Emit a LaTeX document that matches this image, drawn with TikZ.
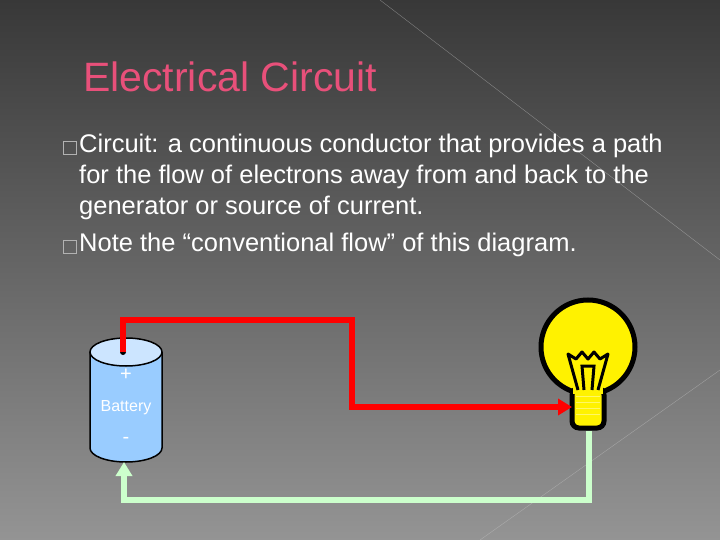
\documentclass[tikz,border=0pt]{standalone}
\usepackage{fontspec}
\setmainfont{Liberation Sans}
\usetikzlibrary{arrows.meta}
\definecolor{ttl}{HTML}{E8507A}
\definecolor{bat}{HTML}{99CCFF}
\definecolor{battop}{HTML}{CCE5FF}
\definecolor{grn}{HTML}{CCFFCC}
\tikzset{txt/.style={text=white,font=\fontsize{25.5}{31}\selectfont,anchor=north west,inner sep=0pt,align=left},
 bul/.style={draw=gray!60,line width=0.8pt,minimum size=13pt,inner sep=0pt},
 wire/.style={line width=6pt}}
\begin{document}
\begin{tikzpicture}[x=1pt,y=-1pt]
\useasboundingbox (0,0) rectangle (720,540);
\shade[top color=black!78,bottom color=black!42] (0,0) rectangle (720,540);
\draw[white!55!gray,opacity=0.5] (380,0) -- (720,260);
\draw[white!55!gray,opacity=0.5] (480,540) -- (720,370);
\node[text=ttl,font=\fontsize{41}{46}\selectfont,anchor=west,inner sep=0pt] (title) at (83,77) {Electrical Circuit};
\node[bul] (b1) at (70,148) {};
\node[bul] (b2) at (70,247) {};
\node[txt] (t1) at (79,134) {Circuit: a continuous conductor that provides a path\\for the flow of electrons away from and back to the\\generator or source of current.};
\node[txt] (t2) at (79,233) {Note the “conventional flow” of this diagram.};
% battery
\draw[line width=1.5pt,fill=bat] (90,352) -- (90,448) arc[start angle=180,end angle=0,x radius=36,y radius=14] -- (162,352);
\draw[line width=1.5pt,fill=battop] (126,352) ellipse[x radius=36,y radius=14];
\fill (123,352) circle[radius=3];
\coordinate (bplus) at (123,352);
\coordinate (bminus) at (124,462);
\node[text=white,font=\fontsize{20}{20}\selectfont] (plus) at (126,375) {+};
\node[text=white,font=\fontsize{16}{18}\selectfont] (blab) at (126,408) {Battery};
\node[text=white,font=\fontsize{20}{20}\selectfont] (minus) at (126,440) {-};
% bulb
\draw[line width=5pt,fill=yellow] (588,347) circle[radius=47];
\draw[line width=5pt,fill=yellow,rounded corners=7pt] (572,388) rectangle (604,428);
\fill[yellow] (573,375) rectangle (603,394);
\foreach \y in {396,402,408,414}{\draw[yellow!60!white,line width=0.8pt] (576,\y) -- (600,\y);}
\draw[line width=3pt,line join=round] (578,390) -- (568,354) -- (576,359) -- (582,352) -- (588,359) -- (594,352) -- (600,359) -- (608,354) -- (598,390);
\draw[line width=3pt] (584,390) -- (582,366) -- (594,366) -- (592,390);
\coordinate (lin) at (572,407);
\coordinate (lout) at (589,431);
% wires
\draw[wire,red,-{Triangle[length=14pt,width=16pt]}] (bplus) -- (123,320) -- (352,320) -- (352,407) -- (lin);
\draw[wire,grn,-{Triangle[length=14pt,width=16pt]}] (lout) -- (589,500) -- (124,500) -- (bminus);
\end{tikzpicture}
\end{document}
